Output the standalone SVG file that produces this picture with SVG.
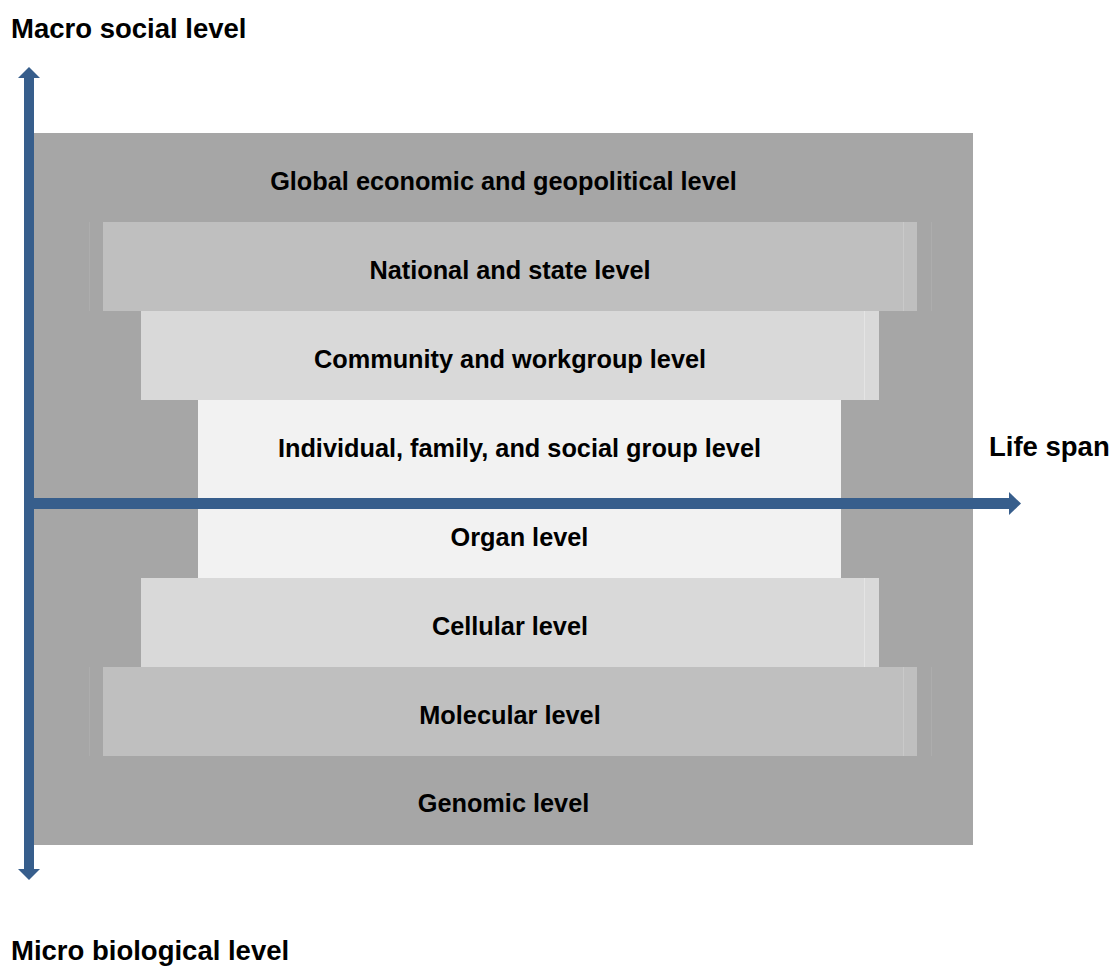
<svg xmlns="http://www.w3.org/2000/svg" width="1112" height="967" viewBox="0 0 1112 967">
  <style>
    .lbl { font-family: "Liberation Sans", Arial, sans-serif; font-weight: bold; fill: #000; }
    .lvl { font-size: 25.3px; text-anchor: middle; }
    .axis { font-size: 27.5px; }
    .outer { fill: #a6a6a6; }
    .l1 { fill: #bfbfbf; }
    .l2 { fill: #d9d9d9; }
    .l3 { fill: #f2f2f2; }
    .arrow { fill: #375e8c; }
    .seam { stroke: #adadad; stroke-width: 1; }
    .hi { stroke: #c9c9c9; stroke-width: 1; }
  </style>

  <rect width="1112" height="967" fill="#ffffff"/>

  <!-- nested levels, outermost first -->
  <g id="global-level">
    <rect class="outer" x="34" y="133" width="939" height="712"/>
    <text class="lbl lvl" x="503.5" y="190">Global economic and geopolitical level</text>
  </g>

  <g id="national-level">
    <line class="seam" x1="89.5" y1="222" x2="89.5" y2="311"/>
    <line class="seam" x1="931.5" y1="222" x2="931.5" y2="311"/>
    <rect class="l1" x="103" y="222" width="814" height="89"/>
    <line class="hi" x1="903.5" y1="222" x2="903.5" y2="311"/>
    <text class="lbl lvl" x="510" y="279">National and state level</text>
  </g>

  <g id="community-level">
    <rect class="l2" x="141" y="311" width="738" height="89"/>
    <line stroke="#e4e4e4" x1="864.5" y1="311" x2="864.5" y2="400"/>
    <text class="lbl lvl" x="510" y="368">Community and workgroup level</text>
  </g>

  <g id="individual-level">
    <rect class="l3" x="198" y="400" width="643" height="89"/>
    <text class="lbl lvl" x="519.5" y="457">Individual, family, and social group level</text>
  </g>

  <g id="organ-level">
    <rect class="l3" x="198" y="489" width="643" height="89"/>
    <text class="lbl lvl" x="519.5" y="546">Organ level</text>
  </g>

  <g id="cellular-level">
    <rect class="l2" x="141" y="578" width="738" height="89"/>
    <line stroke="#e4e4e4" x1="864.5" y1="578" x2="864.5" y2="667"/>
    <text class="lbl lvl" x="510" y="635">Cellular level</text>
  </g>

  <g id="molecular-level">
    <line class="seam" x1="89.5" y1="667" x2="89.5" y2="756"/>
    <line class="seam" x1="931.5" y1="667" x2="931.5" y2="756"/>
    <rect class="l1" x="103" y="667" width="814" height="89"/>
    <line class="hi" x1="903.5" y1="667" x2="903.5" y2="756"/>
    <text class="lbl lvl" x="510" y="724">Molecular level</text>
  </g>

  <g id="genomic-level">
    <text class="lbl lvl" x="503.5" y="812">Genomic level</text>
  </g>

  <!-- axes -->
  <g id="connectors">
    <rect class="arrow" x="24" y="77" width="10" height="793"/>
    <polygon class="arrow" points="18,78 29,67 40,78"/>
    <polygon class="arrow" points="18,869 29,880 40,869"/>
    <rect class="arrow" x="24" y="498" width="986" height="11"/>
    <polygon class="arrow" points="1009,492 1021,503.5 1009,515"/>
  </g>

  <g id="axis-labels">
    <text class="lbl axis" x="11" y="38">Macro social level</text>
    <text class="lbl axis" x="989" y="456">Life span</text>
    <text class="lbl axis" x="11" y="960">Micro biological level</text>
  </g>
</svg>
